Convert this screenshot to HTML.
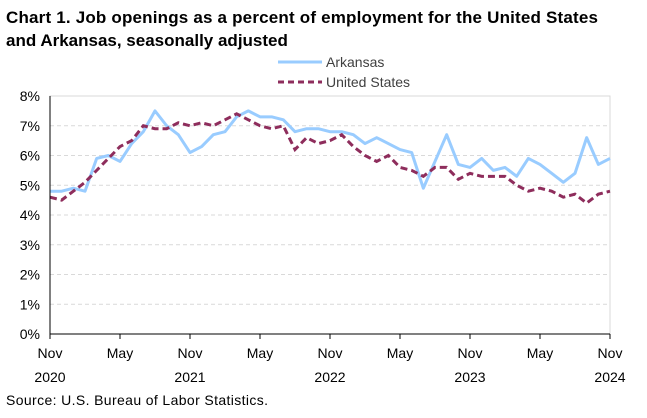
<!DOCTYPE html>
<html><head><meta charset="utf-8"><style>
body{margin:0;width:647px;height:413px;background:#fff;font-family:"Liberation Sans",sans-serif;overflow:hidden}
</style></head><body>
<svg width="647" height="413" font-family="Liberation Sans, sans-serif">
<text x="6" y="23" font-size="17" font-weight="bold" fill="#000" textLength="592">Chart 1. Job openings as a percent of employment for the United States</text>
<text x="6" y="46" font-size="17" font-weight="bold" fill="#000">and Arkansas, seasonally adjusted</text>
<g>
<line x1="278" y1="62" x2="322" y2="62" stroke="#99ccff" stroke-width="3"/>
<text x="326" y="67" font-size="14" fill="#404040">Arkansas</text>
<line x1="278" y1="82" x2="322" y2="82" stroke="#8e2d5c" stroke-width="3" stroke-dasharray="6,4"/>
<text x="326" y="87" font-size="14" fill="#404040">United States</text>
</g>
<rect x="50" y="96" width="560" height="238" fill="none" stroke="#d9d9d9"/>
<g id="grid"></g><g id="yl"></g><g id="xl"></g><g id="series"></g>
<line x1="50" y1="96" x2="50" y2="334" stroke="#000"/>
<line x1="50" y1="334" x2="610" y2="334" stroke="#000"/>
<text x="6" y="405" font-size="14" fill="#000" textLength="262">Source: U.S. Bureau of Labor Statistics.</text>
</svg>
<script>
const arkansas=[4.8,4.8,4.9,4.8,5.9,6.0,5.8,6.4,6.8,7.5,7.0,6.7,6.1,6.3,6.7,6.8,7.3,7.5,7.3,7.3,7.2,6.8,6.9,6.9,6.8,6.8,6.7,6.4,6.6,6.4,6.2,6.1,4.9,5.8,6.7,5.7,5.6,5.9,5.5,5.6,5.3,5.9,5.7,5.4,5.1,5.4,6.6,5.7,5.9];
const unitedStates=[4.6,4.5,4.8,5.1,5.5,5.9,6.3,6.5,7.0,6.9,6.9,7.1,7.0,7.1,7.0,7.2,7.4,7.2,7.0,6.9,7.0,6.2,6.6,6.4,6.5,6.7,6.3,6.0,5.8,6.0,5.6,5.5,5.3,5.6,5.6,5.2,5.4,5.3,5.3,5.3,5.0,4.8,4.9,4.8,4.6,4.7,4.4,4.7,4.8];
const yTicks=[0,1,2,3,4,5,6,7,8];
const xTickIdx=[0,6,12,18,24,30,36,42,48];
const xTickMonth=["Nov","May","Nov","May","Nov","May","Nov","May","Nov"];
const xTickYear=["2020","","2021","","2022","","2023","","2024"];
const NS="http://www.w3.org/2000/svg";
const X=i=>50+i*560/48, Y=v=>334-v*238/8;
function mk(t,a,p){const e=document.createElementNS(NS,t);for(const k in a)e.setAttribute(k,a[k]);p.appendChild(e);return e;}
const g=document.getElementById('grid'),yl=document.getElementById('yl'),xl=document.getElementById('xl'),s=document.getElementById('series');
yTicks.forEach(v=>{
 if(v>0&&v<8){const l=mk('line',{x1:50,x2:610,y1:Y(v),y2:Y(v),stroke:'#d9d9d9','stroke-dasharray':'4,3'},g);
 
 }
 const t=mk('text',{x:40,y:Y(v)+5,'text-anchor':'end','font-size':14,fill:'#000'},yl);t.textContent=v+'%';
 
 
});
xTickIdx.forEach((i,k)=>{
 const tk=mk('line',{x1:X(i),x2:X(i),y1:334,y2:339,stroke:'#000'},xl);
 
 
 const t=mk('text',{x:X(i),y:358,'text-anchor':'middle','font-size':14,fill:'#000'},xl);t.textContent=xTickMonth[k];
 
 
 if(xTickYear[k]){const t2=mk('text',{x:X(i),y:382,'text-anchor':'middle','font-size':14,fill:'#000'},xl);t2.textContent=xTickYear[k];
 
 }
});
const pa=mk('polyline',{points:arkansas.map((v,i)=>X(i)+','+Y(v)).join(' '),fill:'none',stroke:'#99ccff','stroke-width':3,'stroke-linejoin':'round'},s);


const pu=mk('polyline',{points:unitedStates.map((v,i)=>X(i)+','+Y(v)).join(' '),fill:'none',stroke:'#8e2d5c','stroke-width':3,'stroke-dasharray':'7,4'},s);


</script>
</body></html>
